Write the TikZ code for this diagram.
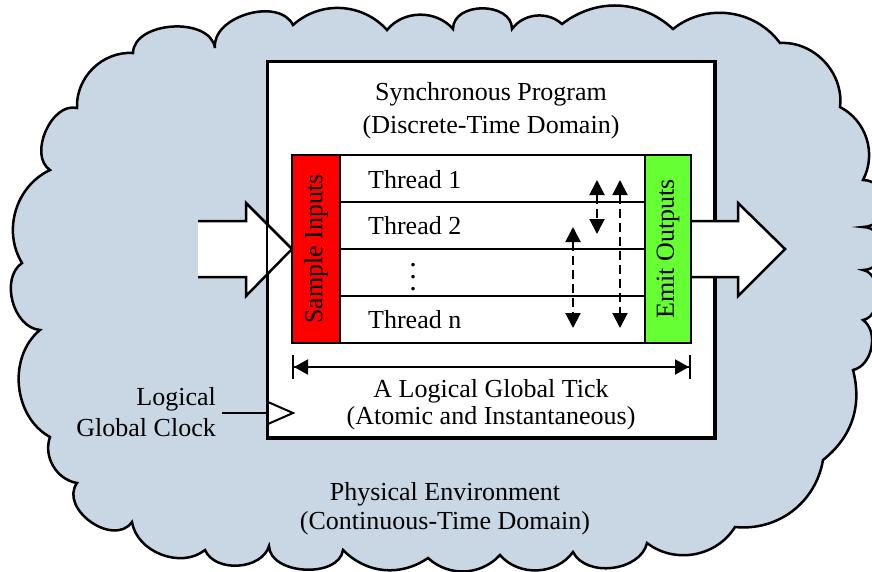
\documentclass[tikz,border=0pt]{standalone}
\usepackage{fontspec}
\setmainfont{Liberation Serif}
\usetikzlibrary{arrows.meta}
\definecolor{envblue}{RGB}{201,214,228}
\definecolor{inred}{RGB}{255,0,0}
\definecolor{outgreen}{RGB}{102,255,51}
\begin{document}
\begin{tikzpicture}[x=1pt,y=1pt]
    \tikzstyle{box}=[rectangle,draw=black,line width=2.5pt,inner sep=0pt]
    \tikzstyle{txt}=[font=\fontsize{26}{31}\selectfont,align=center,inner sep=0pt]
    \tikzstyle{sync}=[line width=2pt,dash pattern=on 9pt off 5pt,{Triangle[length=15pt,width=15pt]}-{Triangle[length=15pt,width=15pt]}]
    \tikzstyle{bigarrow}=[line width=2.5pt,fill=white,line join=miter]
    \useasboundingbox (0,0) rectangle (872,-571);
    \clip (0,0) rectangle (872,-571);
    % physical environment (cloud)
    \draw[line width=2.5pt,fill=envblue] (22,-263) to[bend left=48] (50,-170) to[bend left=80] (77,-108)
        to[bend left=48] (133,-53) to[bend left=85] (215,-48) to[bend left=80] (293,-25)
        to[bend left=45] (387,-30) to[bend left=50] (453,-29) to[bend left=90,looseness=1.2] (512,-29)
        to[bend left=48] (562,-24) to[bend left=40] (673,-29) to[bend left=46] (780,-43)
        to[bend left=50] (840,-107) to[bend left=45] (863,-180) to[bend left=90,looseness=1.5] (863,-227)
        to[bend left=90,looseness=1.5] (863,-270) to[bend left=80] (863,-320) to[bend left=66] (853,-370)
        to[bend left=33] (823,-460) to[bend left=43] (735,-527) to[bend left=48] (647,-543)
        to[bend left=70] (573,-552) to[bend left=52] (500,-555) to[bend left=45] (428,-558)
        to[bend left=40] (343,-550) to[bend left=85] (269,-546) to[bend left=70] (205,-550)
        to[bend left=60] (132,-522) to[bend left=90,looseness=1.2] (77,-483) to[bend left=50] (50,-437)
        to[bend left=56] (40,-330) to[bend left=70] (22,-263) -- cycle;
    % synchronous program
    \node (prog)[box,fill=white,minimum width=446pt,minimum height=375pt] at (491,-249.5) {};
    \node (progtitle)[txt,font=\fontsize{26}{33}\selectfont] at (491,-111) {Synchronous Program\\(Discrete-Time Domain)};
    \draw[bigarrow] (198,-221) -- (246,-221) -- (246,-203) -- (292,-249) -- (246,-296) -- (246,-277) -- (198,-277);
    \draw[box] (prog.south west) rectangle (prog.north east);
    \draw[bigarrow] (691,-221) -- (738,-221) -- (738,-203) -- (785,-249) -- (738,-296) -- (738,-277) -- (691,-277);
    % threads
    \node (row1)[box,minimum width=305pt,minimum height=47pt] at (492.5,-178.5) {};
    \node (row2)[box,minimum width=305pt,minimum height=47pt] at (492.5,-225.5) {};
    \node (row3)[box,minimum width=305pt,minimum height=47pt] at (492.5,-272.5) {};
    \node (row4)[box,minimum width=305pt,minimum height=47pt] at (492.5,-319.5) {};
    \node (th1)[txt,anchor=west] at (368,-180) {Thread 1};
    \node (th2)[txt,anchor=west] at (368,-226) {Thread 2};
    \node (dots)[inner sep=0pt] at (413,-268) {\scalebox{3}{$\vdots$}};
    \node (thn)[txt,anchor=west] at (368,-320) {Thread n};
    \node (sample)[box,fill=inred,rotate=90,minimum width=188pt,minimum height=48pt,font=\fontsize{26}{31}\selectfont] at (316,-249) {Sample Inputs};
    \node (emit)[box,fill=outgreen,rotate=90,minimum width=188pt,minimum height=46pt,font=\fontsize{26}{31}\selectfont] at (668,-249) {Emit Outputs};
    % communication between threads
    \coordinate (a1) at (597,-180);
    \coordinate (a2) at (597,-234);
    \coordinate (b1) at (620,-180);
    \coordinate (b2) at (620,-328);
    \coordinate (c1) at (573,-227);
    \coordinate (c2) at (573,-328);
    \draw[sync] (a1) -- (a2);
    \draw[sync] (b1) -- (b2);
    \draw[sync] (c1) -- (c2);
    % logical tick
    \coordinate (tickL) at (292,-367);
    \coordinate (tickR) at (691,-367);
    \draw[line width=2pt,{Bar[width=24pt]Triangle[length=14pt,width=15pt]}-{Triangle[length=14pt,width=15pt]Bar[width=24pt]}] (tickL) -- (tickR);
    \node (ticklabel)[txt,font=\fontsize{26}{27}\selectfont] at (491,-405) {A Logical Global Tick\\(Atomic and Instantaneous)};
    % clock
    \coordinate (clk) at (222,-413);
    \draw[line width=2.5pt] (clk) -- (prog.west |- clk);
    \draw[line width=2pt] (268,-402) -- (293,-413) -- (268,-424);
    \node (clocklabel)[txt,align=right,anchor=east] at (216,-412.5) {Logical\\Global Clock};
    \node (envlabel)[txt,font=\fontsize{26}{29}\selectfont] at (445,-508.5) {Physical Environment\\(Continuous-Time Domain)};
\end{tikzpicture}
\end{document}
